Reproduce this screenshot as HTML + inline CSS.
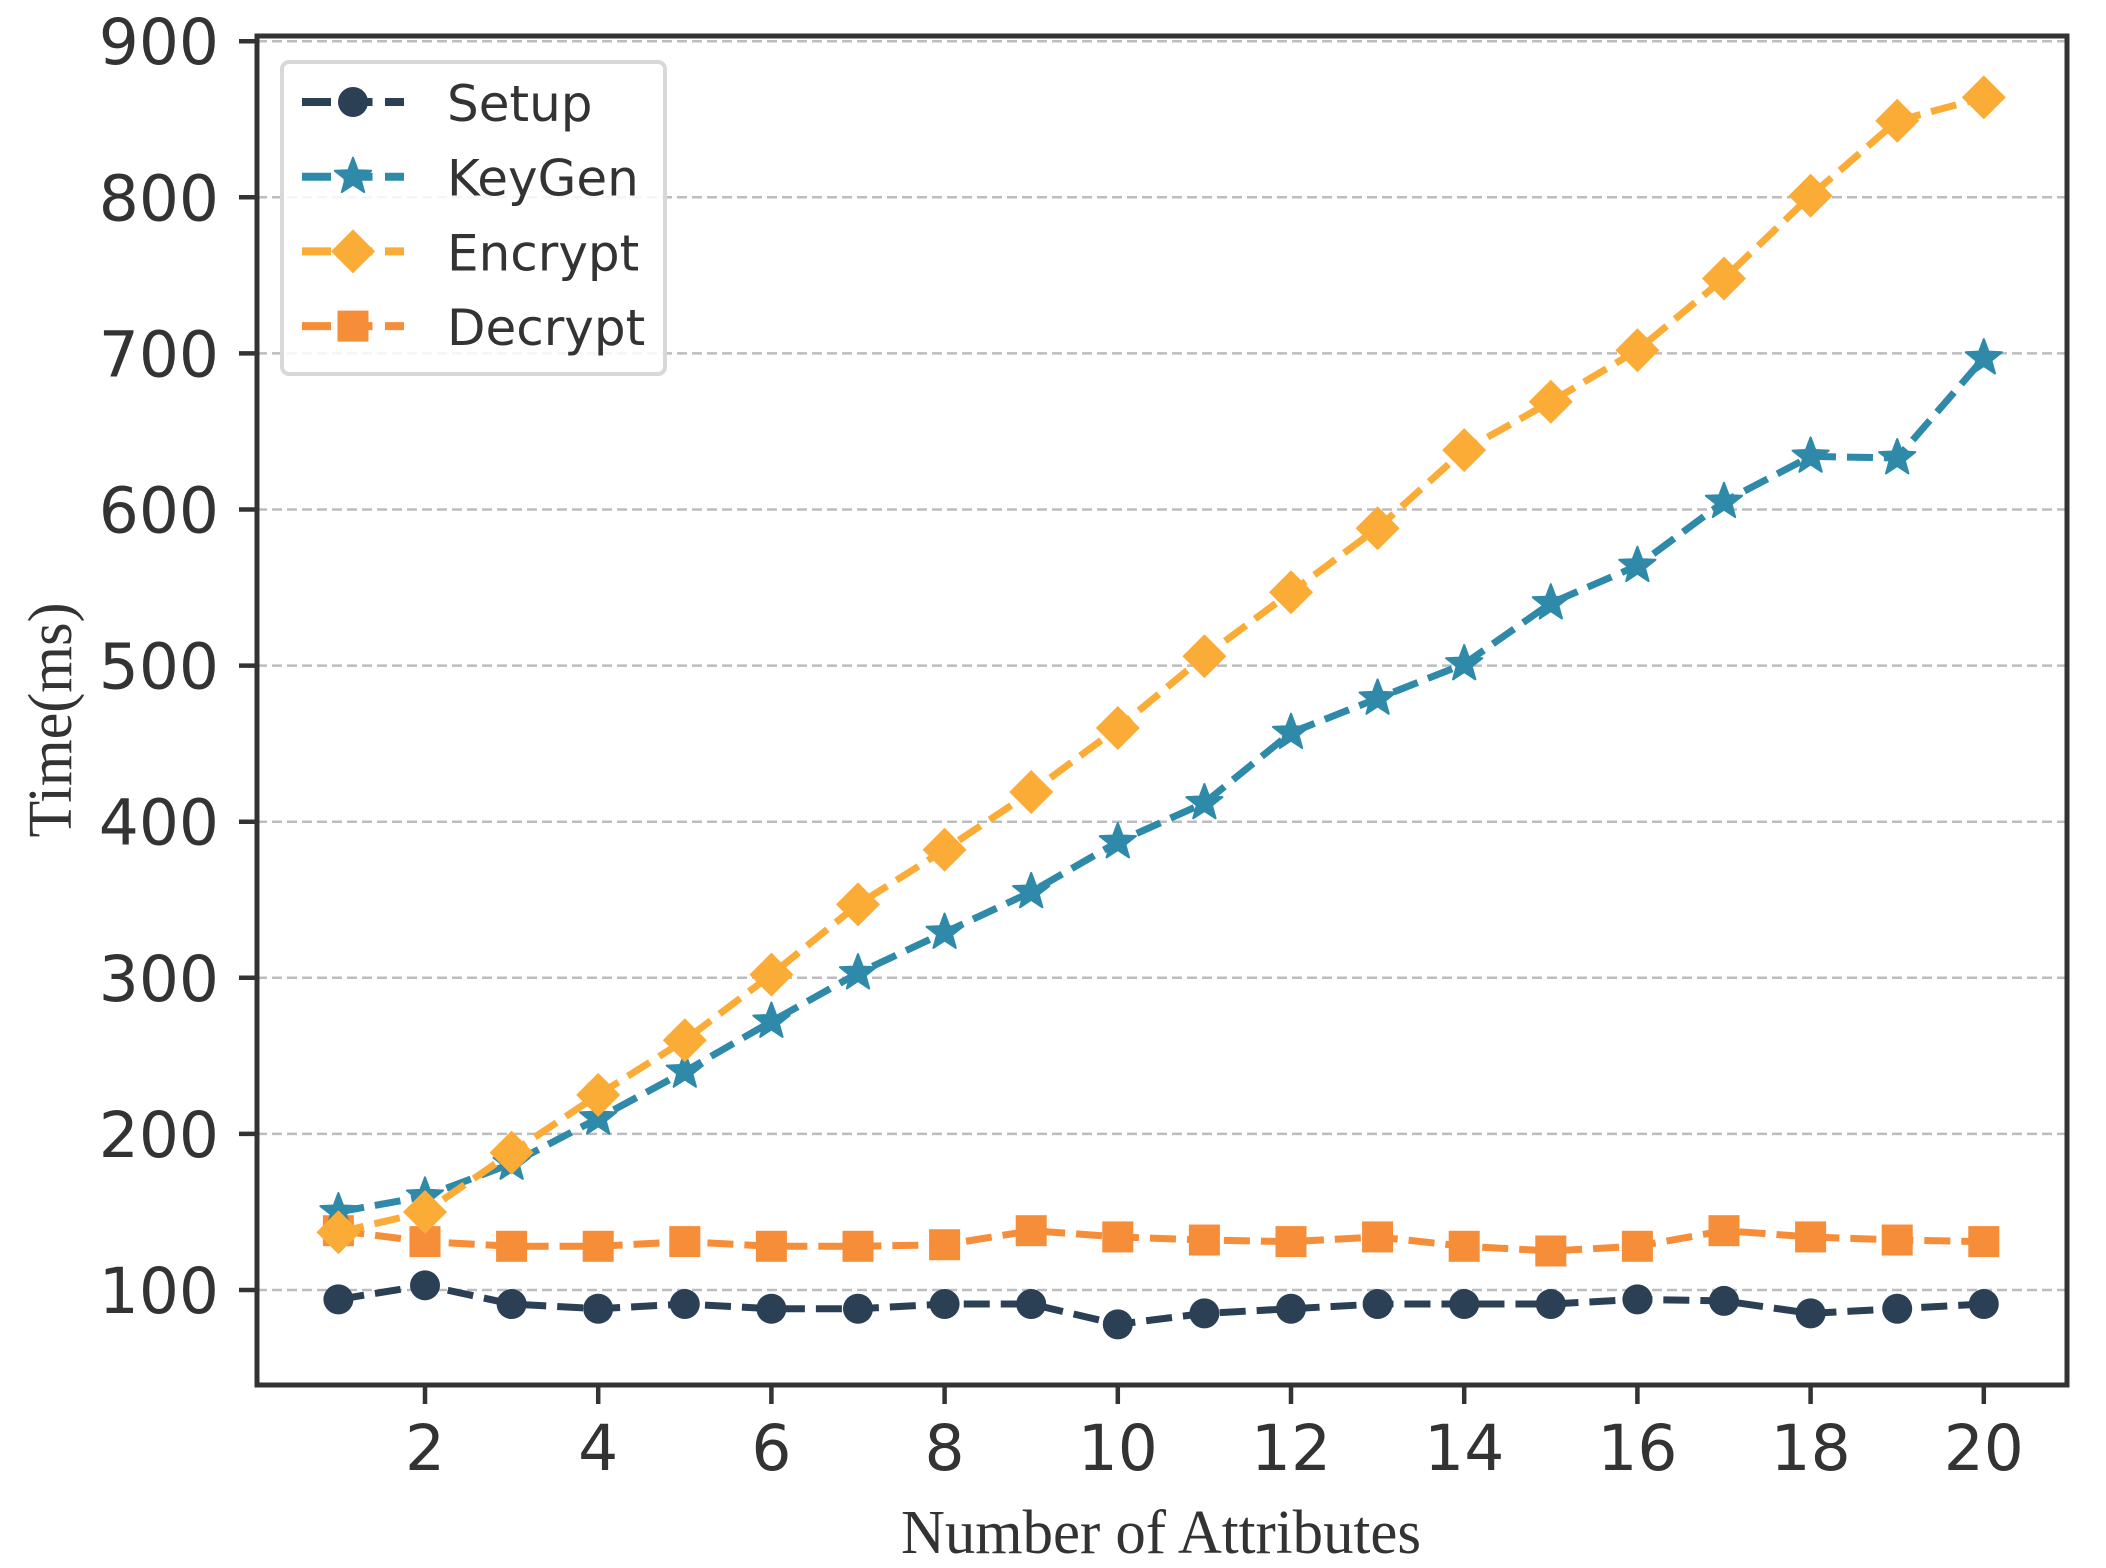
<!DOCTYPE html>
<html><head><meta charset="utf-8"><style>html,body{margin:0;padding:0;background:#fff}svg{display:block}</style></head>
<body>
<svg id="chart" width="2106" height="1568" viewBox="0 0 2106 1568" xmlns="http://www.w3.org/2000/svg">
<g id="grid"></g>
<g id="series"></g>
<rect x="257" y="36" width="1810" height="1349" fill="none" stroke="#333" stroke-width="5"/>
<g id="ticks"></g>
<text x="1161" y="1553" text-anchor="middle" font-family="Liberation Serif, serif" font-size="62" fill="#333" textLength="520" lengthAdjust="spacingAndGlyphs">Number of Attributes</text>
<text transform="translate(71,720) rotate(-90)" text-anchor="middle" font-family="Liberation Serif, serif" font-size="62" fill="#333" textLength="235" lengthAdjust="spacingAndGlyphs">Time(ms)</text>
<g id="legend"></g>
</svg>
<script>
const xs = [1,2,3,4,5,6,7,8,9,10,11,12,13,14,15,16,17,18,19,20];
const setupVals = [94,103,91,88,91,88,88,91,91,78,85,88,91,91,91,94,93,85,88,91];
const keygenVals = [150,160,181,210,240,272,303,329,355,387,412,457,479,501,540,564,605,634,633,697];
const encryptVals = [137,150,188,225,260,302,347,382,419,460,506,547,588,638,669,702,748,801,849,864];
const decryptVals = [138,131,128,128,131,128,128,129,138,134,132,131,134,128,125,128,138,134,132,131];
const yTicks = [100,200,300,400,500,600,700,800,900];
const xTicks = [2,4,6,8,10,12,14,16,18,20];
const seriesNames = ["Setup","KeyGen","Encrypt","Decrypt"];

const NS="http://www.w3.org/2000/svg";
function X(v){return 425+(v-2)*86.6;}
function Y(v){return 1290-(v-100)*1.561;}
function mk(t,a,p){const e=document.createElementNS(NS,t);for(const k in a)e.setAttribute(k,a[k]);p.appendChild(e);return e;}
const grid=document.getElementById('grid'),ticks=document.getElementById('ticks'),ser=document.getElementById('series'),leg=document.getElementById('legend');
const TF="DejaVu Sans, Liberation Sans, sans-serif";
yTicks.forEach(v=>{
  const g=mk('line',{x1:257,x2:2067,y1:Y(v),y2:Y(v),stroke:'#bdbdbd','stroke-width':2.5,'stroke-dasharray':'10,5'},grid);
  
  const t=mk('line',{x1:239,x2:257,y1:Y(v),y2:Y(v),stroke:'#333','stroke-width':4.5},ticks);
  
  const l=mk('text',{x:219,y:Y(v)+23,'text-anchor':'end','font-family':TF,'font-size':63,fill:'#333'},ticks);
  l.textContent=v;
});
xTicks.forEach(v=>{
  const t=mk('line',{x1:X(v),x2:X(v),y1:1385,y2:1404,stroke:'#333','stroke-width':4.5},ticks);
  
  const l=mk('text',{x:X(v),y:1470,'text-anchor':'middle','font-family':TF,'font-size':63,fill:'#333'},ticks);
  l.textContent=v;
});
function marker(kind,cx,cy,col,p){
  let e;
  if(kind==='circle')e=mk('circle',{cx:cx,cy:cy,r:15,fill:col},p);
  else if(kind==='square')e=mk('rect',{x:cx-15.5,y:cy-15.5,width:31,height:31,fill:col},p);
  else if(kind==='diamond'){const r=22;e=mk('polygon',{points:`${cx},${cy-r} ${cx+r},${cy} ${cx},${cy+r} ${cx-r},${cy}`,fill:col},p);}
  else {let pts=[];for(let i=0;i<10;i++){const r=i%2?8:19,a=-Math.PI/2+i*Math.PI/5;pts.push((cx+r*Math.cos(a)).toFixed(1)+','+(cy+r*Math.sin(a)).toFixed(1));}
    e=mk('polygon',{points:pts.join(' '),fill:col,stroke:col,'stroke-width':2,'stroke-linejoin':'round'},p);}
  return e;
}
const defs=[[setupVals,'#2b3f55','circle'],[keygenVals,'#2e8aa8','star'],[encryptVals,'#fbac36','diamond'],[decryptVals,'#f68d38','square']];
[3,0,1,2].forEach(i=>{
  const [vals,col,kind]=defs[i];
  const g=mk('g',{},ser);
  const ln=mk('polyline',{points:vals.map((v,j)=>X(xs[j])+','+Y(v)).join(' '),fill:'none',stroke:col,'stroke-width':7,'stroke-dasharray':'26,11'},g);
  
  vals.forEach((v,j)=>{const m=marker(kind,X(xs[j]),Y(v),col,g);
    });
});
const box=mk('rect',{x:282,y:62,width:383,height:312,rx:7,fill:'#fff','fill-opacity':0.85,stroke:'#d8d8d8','stroke-width':4},leg);

defs.forEach((d,i)=>{
  const cy=102+i*74.7;
  const g=mk('g',{},leg);
  mk('line',{x1:302,x2:404,y1:cy,y2:cy,stroke:d[1],'stroke-width':8,'stroke-dasharray':'29,12.5'},g);
  marker(d[2],353,cy,d[1],g);
  const t=mk('text',{x:447,y:cy+19,'font-family':TF,'font-size':50,fill:'#333'},g);t.textContent=seriesNames[i];
});
</script>
</body></html>
